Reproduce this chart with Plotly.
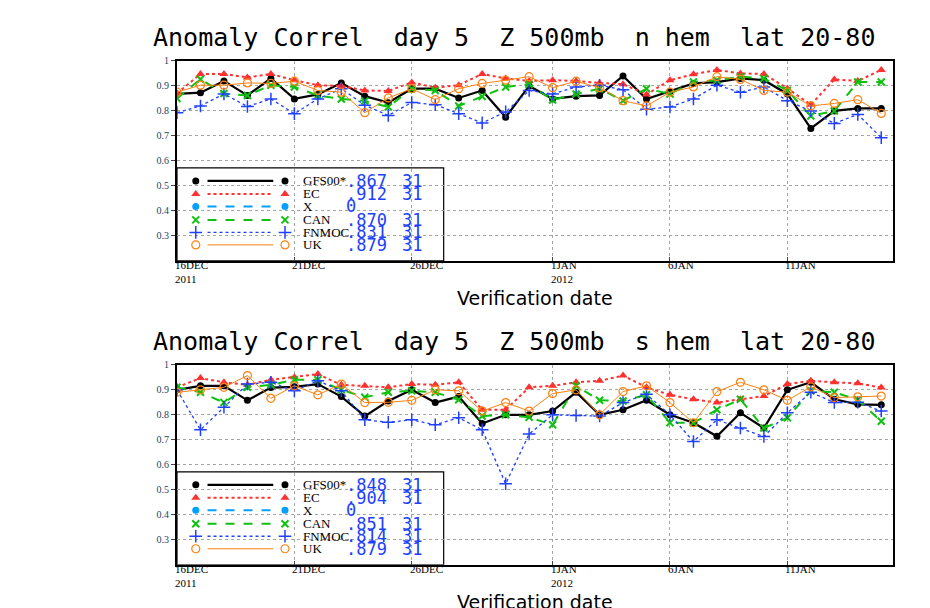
import plotly.graph_objects as go

days = list(range(31))  # 16DEC2011 .. 15JAN2012
tick_days = [0, 5, 10, 16, 21, 26]
tick_text = ["16DEC", "21DEC", "26DEC", "1JAN", "6JAN", "11JAN"]
tick_year = {0: "2011", 16: "2012"}

models = ["GFS00*", "EC", "X", "CAN", "FNMOC", "UK"]

# northern hemisphere
nh_gfs = [.868, .873, .92, .862, .93, .848, .866, .912, .859, .833, .889, .889, .852, .882, .775, .90,
          .848, .859, .862, .94, .848, .878, .91, .915, .93, .923, .868, .73, .80, .81, .81]
nh_ec = [.87, .948, .948, .934, .948, .923, .903, .90, .882, .88, .914, .893, .903, .948, .93, .92,
         .923, .92, .912, .907, .866, .923, .947, .964, .95, .948, .89, .825, .926, .92, .964]
nh_can = [.85, .927, .87, .862, .903, .896, .862, .848, .84, .816, .889, .882, .82, .858, .896, .907,
          .844, .868, .889, .841, .889, .868, .916, .923, .937, .93, .882, .78, .80, .916, .916]
nh_fnmoc = [.793, .82, .868, .818, .848, .789, .848, .889, .823, .782, .834, .825, .789, .752, .796, .882,
            .868, .896, .903, .885, .807, .816, .848, .903, .875, .896, .841, .80, .75, .786, .693]
nh_uk = [.875, .903, .903, .912, .91, .919, .882, .875, .793, .852, .889, .845, .889, .91, .923, .937,
         .893, .919, .893, .841, .82, .875, .896, .937, .926, .882, .875, .82, .83, .845, .79]
nh_scores = [".867", ".912", "0", ".870", ".831", ".879"]

# southern hemisphere
sh_gfs = [.90, .916, .916, .858, .909, .912, .923, .873, .795, .855, .90, .849, .873, .765, .80, .80,
          .815, .89, .80, .82, .858, .80, .768, .714, .808, .747, .90, .93, .862, .842, .84]
sh_ec = [.91, .947, .93, .92, .94, .95, .963, .92, .916, .91, .923, .92, .93, .82, .82, .91,
         .916, .93, .936, .957, .91, .88, .862, .849, .862, .875, .923, .936, .93, .926, .909]
sh_can = [.91, .89, .849, .91, .92, .94, .94, .90, .87, .89, .896, .89, .86, .795, .80, .79,
          .76, .916, .858, .855, .88, .768, .768, .82, .862, .747, .788, .896, .89, .86, .774]
sh_fnmoc = [.90, .74, .83, .923, .93, .896, .936, .896, .78, .77, .78, .76, .788, .74, .524, .723,
            .80, .797, .795, .849, .882, .80, .693, .78, .747, .713, .808, .89, .849, .85, .815]
sh_uk = [.89, .90, .91, .957, .866, .916, .88, .923, .849, .85, .858, .90, .896, .815, .849, .815,
         .885, .90, .80, .893, .916, .849, .768, .893, .93, .90, .858, .912, .869, .872, .875]
sh_scores = [".848", ".904", "0", ".851", ".814", ".879"]

styles = {
    "GFS00*": dict(line=dict(color="black", width=2.2), marker=dict(symbol="circle", size=7, color="black")),
    "EC": dict(line=dict(color="#ff3030", width=2, dash="dot"), marker=dict(symbol="triangle-up", size=8, color="#ff3030")),
    "X": dict(line=dict(color="#00a0ff", width=2, dash="dash"), marker=dict(symbol="circle", size=7, color="#00a0ff")),
    "CAN": dict(line=dict(color="#10c010", width=2, dash="dash"), marker=dict(symbol="x-thin", size=7, color="#10c010", line=dict(width=2, color="#10c010"))),
    "FNMOC": dict(line=dict(color="#2040ff", width=1.3, dash="dot"), marker=dict(symbol="cross-thin", size=9, color="#2040ff", line=dict(width=1.5, color="#2040ff"))),
    "UK": dict(line=dict(color="#ff8010", width=1), marker=dict(symbol="circle-open", size=8, color="#ff8010", line=dict(width=1.2, color="#ff8010"))),
}

fig = go.Figure()
domains = [[0.590, 0.942], [0.055, 0.407]]
panels = [
    ("n hem", {"GFS00*": nh_gfs, "EC": nh_ec, "CAN": nh_can, "FNMOC": nh_fnmoc, "UK": nh_uk}, nh_scores),
    ("s hem", {"GFS00*": sh_gfs, "EC": sh_ec, "CAN": sh_can, "FNMOC": sh_fnmoc, "UK": sh_uk}, sh_scores),
]
leg_y = [0.52, 0.468, 0.418, 0.364, 0.314, 0.264]
mono = "DejaVu Sans Mono"

for i, (hem, series, scores) in enumerate(panels):
    xa = "x" if i == 0 else "x2"
    ya = "y" if i == 0 else "y2"
    for m in models:
        if m in series:
            fig.add_trace(go.Scatter(x=days, y=series[m], mode="lines+markers", xaxis=xa, yaxis=ya,
                                     showlegend=False, **styles[m]))
    # legend box
    fig.add_shape(type="rect", xref=xa, yref=ya, x0=0, x1=11.36, y0=0.2, y1=0.572,
                  line=dict(color="black", width=1.2), fillcolor="white", layer="below")
    for k, m in enumerate(models):
        st = styles[m]
        fig.add_shape(type="line", xref=xa, yref=ya, x0=1.3, x1=4.1, y0=leg_y[k], y1=leg_y[k],
                      line=st["line"], layer="below")
        fig.add_trace(go.Scatter(x=[0.8, 4.6], y=[leg_y[k]] * 2, mode="markers", xaxis=xa, yaxis=ya,
                                 marker=st["marker"], showlegend=False, cliponaxis=False))
        fig.add_annotation(x=5.3, y=leg_y[k], xref=xa, yref=ya, text=m, showarrow=False, xanchor="left",
                           font=dict(family="Liberation Serif", size=13, color="black"))
        fig.add_annotation(x=7.1, y=leg_y[k], xref=xa, yref=ya, text=scores[k], showarrow=False, xanchor="left",
                           font=dict(family=mono, size=17, color="#2040ff"))
        if scores[k] != "0":
            fig.add_annotation(x=9.5, y=leg_y[k], xref=xa, yref=ya, text="31", showarrow=False, xanchor="left",
                               font=dict(family=mono, size=17, color="#2040ff"))
    # title
    fig.add_annotation(x=0.47, y=domains[i][1] + 0.012, xref="paper", yref="paper", yanchor="bottom",
                       text="Anomaly Correl  day 5  Z 500mb  " + hem + "  lat 20-80", showarrow=False,
                       font=dict(family=mono, size=25, color="black"))
    # date labels
    for d, t in zip(tick_days, tick_text):
        lbl = t + ("<br>" + tick_year[d] if d in tick_year else "")
        fig.add_annotation(x=d, y=domains[i][0], xref=xa, yref="paper", yanchor="top", xanchor="left",
                           text=lbl, showarrow=False, xshift=-4, yshift=4,
                           font=dict(family="Liberation Serif", size=11, color="black"), align="left")
    fig.add_annotation(x=0.5, y=domains[i][0] - 0.043, xref="paper", yref="paper", yanchor="top",
                       text="Verification date", showarrow=False,
                       font=dict(family="DejaVu Sans", size=19, color="black"))

axis_common = dict(showline=True, linecolor="black", linewidth=2, mirror=True, showgrid=True,
                   gridcolor="#a0a8a0", griddash="dot", zeroline=False, layer="above traces")
yticks = [0.3, 0.4, 0.5, 0.6, 0.7, 0.8, 0.9, 1.0]
ylabels = ["0.3", "0.4", "0.5", "0.6", "0.7", "0.8", "0.9", "1"]
for i in range(2):
    fig.layout["xaxis" + ("" if i == 0 else "2")] = dict(
        domain=[0, 1], range=[0, 30.5], tickvals=tick_days, showticklabels=False,
        ticks="inside", ticklen=4, anchor="y" if i == 0 else "y2", **axis_common)
    fig.layout["yaxis" + ("" if i == 0 else "2")] = dict(
        domain=domains[i], range=[0.2, 1.0], tickvals=yticks, ticktext=ylabels,
        ticks="outside", ticklen=4, anchor="x" if i == 0 else "x2",
        tickfont=dict(family="Liberation Serif", size=10), **axis_common)

fig.update_layout(width=930, height=608, margin=dict(l=169, r=45, t=20, b=20),
                  plot_bgcolor="white", paper_bgcolor="white")
fig.write_html("out.html")
